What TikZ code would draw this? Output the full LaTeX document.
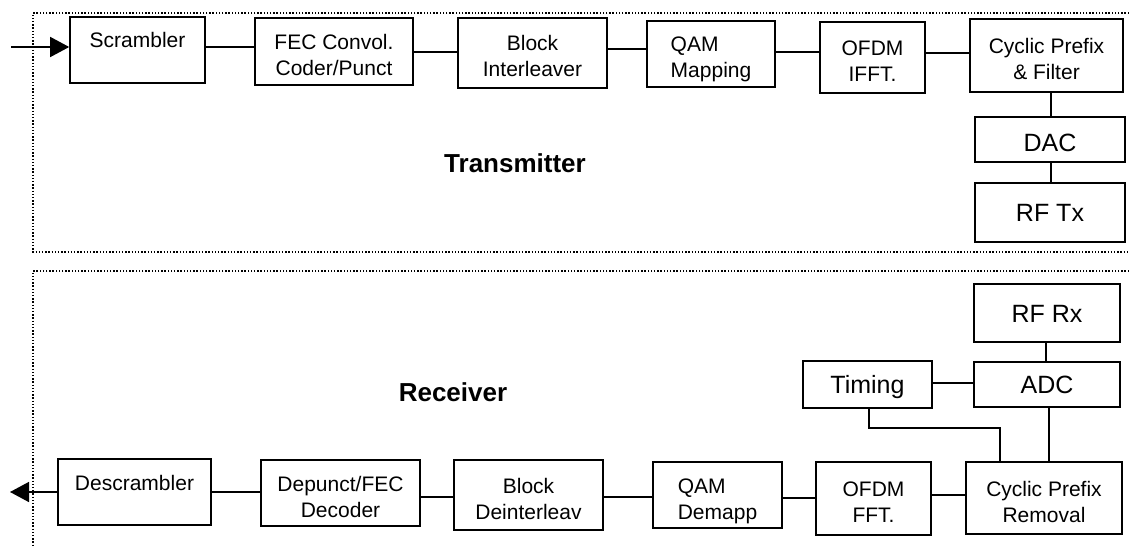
\documentclass[tikz,border=0pt]{standalone}
\usepackage{fontspec}
\setmainfont{Liberation Sans}
\usetikzlibrary{arrows.meta}
\begin{document}
\begin{tikzpicture}[x=1pt,y=-1pt,
  box/.style={draw,line width=1.6pt,inner sep=0pt,align=center},
  blk/.style={box,font=\fontsize{21}{26}\selectfont,
    text height=48pt,text depth=0pt},
  bigblk/.style={box,font=\fontsize{25}{30}\selectfont,
    text height=18pt,text depth=0pt},
  wire/.style={line width=1.5pt},
  frame/.style={line width=1.4pt,dash pattern=on 1.4pt off 1.8pt},
  title/.style={font=\fontsize{26}{30}\selectfont\bfseries},
  tip/.style={-{Triangle[length=19pt,width=20pt]}}]
\useasboundingbox (0,0) rectangle (1129,548);

% enclosing dotted frames
\draw[frame] (1129,13) -- (33,13) -- (33,252) -- (1129,252);
\draw[frame] (1129,271) -- (33,271) -- (33,548);

% transmitter chain
\node[blk,minimum width=135pt,minimum height=66pt] (scr) at (137.5,50) {Scrambler\\\mbox{}};
\node[blk,minimum width=158pt,minimum height=67pt] (fec) at (334,51.5) {FEC Convol.\\Coder/Punct};
\node[blk,minimum width=149pt,minimum height=70pt] (bint) at (532.5,53) {Block\\Interleaver};
\node[blk,align=left,minimum width=128pt,minimum height=66pt] (qam) at (711,54) {QAM\\Mapping};
\node[blk,minimum width=105pt,minimum height=71pt] (ifft) at (872.5,57.5) {OFDM\\IFFT.};
\node[blk,minimum width=153pt,minimum height=73pt] (cpf) at (1046.5,55.5) {Cyclic Prefix\\\& Filter};
\node[bigblk,text height=24pt,minimum width=150pt,minimum height=45pt] (dac) at (1050,139.5) {DAC};
\node[bigblk,minimum width=150pt,minimum height=59pt] (rftx) at (1050,212.5) {RF Tx};
\node[title] (txlbl) at (515,163) {Transmitter};

\coordinate (txin) at (11,47);
\draw[wire,tip] (txin) -- (scr.west |- 0,47);
\draw[wire] (scr.east |- 0,47) -- (fec.west |- 0,47);
\draw[wire] (fec.east |- 0,52) -- (bint.west |- 0,52);
\draw[wire] (bint.east |- 0,49) -- (qam.west |- 0,49);
\draw[wire] (qam.east |- 0,52) -- (ifft.west |- 0,52);
\draw[wire] (ifft.east |- 0,53) -- (cpf.west |- 0,53);
\draw[wire] (cpf.south -| 1051,0) -- (dac.north -| 1051,0);
\draw[wire] (dac.south -| 1051,0) -- (rftx.north -| 1051,0);

% receiver chain
\node[blk,minimum width=153pt,minimum height=66pt] (desc) at (134.5,492) {Descrambler\\\mbox{}};
\node[blk,minimum width=159pt,minimum height=66pt] (depf) at (340.5,493) {Depunct/FEC\\Decoder};
\node[blk,minimum width=149pt,minimum height=70pt] (bdei) at (528.5,495) {Block\\Deinterleav};
\node[blk,align=left,minimum width=129pt,minimum height=66pt] (qamd) at (717.5,495) {QAM\\Demapp};
\node[blk,minimum width=115pt,minimum height=73pt] (fft) at (873.5,498.5) {OFDM\\FFT.};
\node[blk,minimum width=156pt,minimum height=72pt] (cpr) at (1044,498) {Cyclic Prefix\\Removal};
\node[bigblk,minimum width=146pt,minimum height=58pt] (rfrx) at (1047,313) {RF Rx};
\node[bigblk,minimum width=146pt,minimum height=45pt] (adc) at (1047,384.5) {ADC};
\node[bigblk,minimum width=129pt,minimum height=47pt] (tim) at (867.5,384.5) {Timing};
\node[title] (rxlbl) at (453,392) {Receiver};

\coordinate (rxout) at (10,492);
\draw[wire,tip] (desc.west |- 0,492) -- (rxout);
\draw[wire] (desc.east |- 0,492) -- (depf.west |- 0,492);
\draw[wire] (depf.east |- 0,497) -- (bdei.west |- 0,497);
\draw[wire] (bdei.east |- 0,497) -- (qamd.west |- 0,497);
\draw[wire] (qamd.east |- 0,498) -- (fft.west |- 0,498);
\draw[wire] (fft.east |- 0,495) -- (cpr.west |- 0,495);
\draw[wire] (rfrx.south -| 1046,0) -- (adc.north -| 1046,0);
\draw[wire] (adc.west |- 0,383) -- (tim.east |- 0,383);
\draw[wire] (adc.south -| 1049,0) -- (cpr.north -| 1049,0);
\draw[wire] (tim.south -| 869,0) -- (869,428) -- (1000,428) -- (cpr.north -| 1000,0);
\end{tikzpicture}
\end{document}
